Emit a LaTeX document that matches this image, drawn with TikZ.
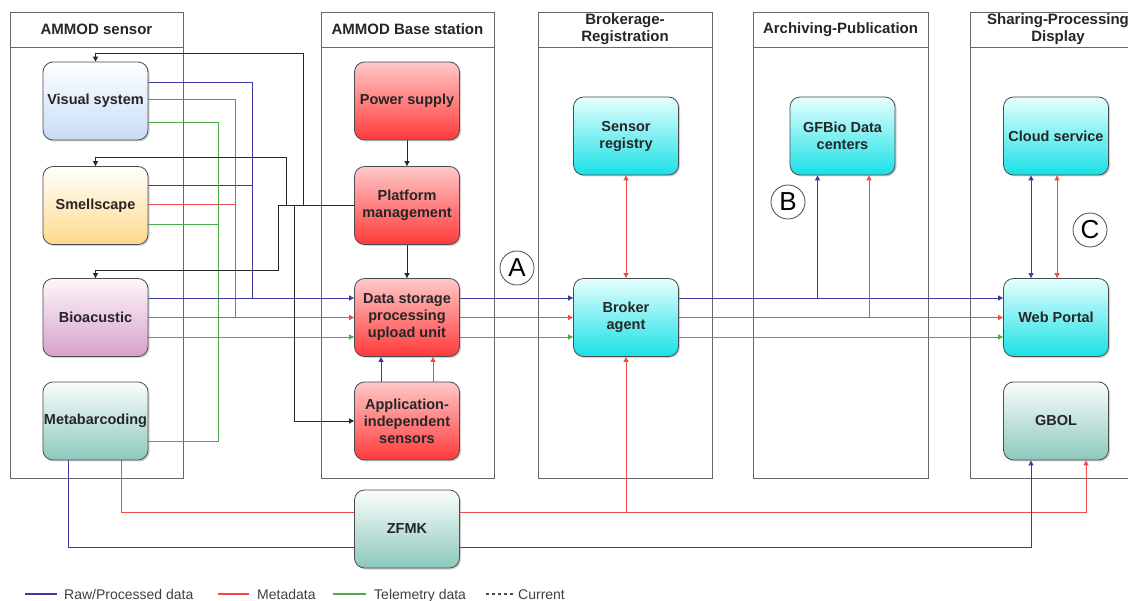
\documentclass[tikz,border=0pt]{standalone}
\usepackage{fontspec}
\setmainfont{Liberation Sans}
\usetikzlibrary{arrows.meta,shadows,backgrounds}
\definecolor{cBlue}{HTML}{3C3CA0}
\definecolor{cRed}{HTML}{EE4A4A}
\definecolor{cGreen}{HTML}{4CAA4C}
\begin{document}
\begin{tikzpicture}[x=1pt,y=-1pt,
  lane/.style={draw=black!60, line width=0.8pt},
  lanetitle/.style={font=\fontsize{15}{17}\selectfont\bfseries, text=black!85, align=center},
  box/.style={rectangle, rounded corners=10pt, draw=black!70, line width=0.8pt,
    minimum width=105pt, minimum height=78pt, align=center, inner sep=1pt,
    font=\fontsize{14.5}{17}\selectfont\bfseries, text=black!85,
    drop shadow={shadow xshift=1.5pt, shadow yshift=-1.5pt, opacity=0.35}},
  bvis/.style={box, top color=white, bottom color={rgb,255:red,200;green,220;blue,246}},
  bsme/.style={box, top color=white, bottom color={rgb,255:red,255;green,217;blue,138}},
  bbio/.style={box, top color={rgb,255:red,253;green,247;blue,251}, bottom color={rgb,255:red,216;green,160;blue,200}},
  bteal/.style={box, top color={rgb,255:red,250;green,253;blue,253}, bottom color={rgb,255:red,140;green,200;blue,188}},
  bred/.style={box, top color={rgb,255:red,255;green,200;blue,200}, bottom color={rgb,255:red,255;green,58;blue,58}},
  bcyan/.style={box, top color={rgb,255:red,230;green,255;blue,255}, bottom color={rgb,255:red,25;green,224;blue,230}},
  circ/.style={circle, draw=black!70, line width=0.8pt, minimum size=34pt, inner sep=0pt,
    font=\fontsize{26}{26}\selectfont},
  legend/.style={font=\fontsize{14}{16}\selectfont, text=black!75, anchor=base west, inner sep=0pt},
  conn/.style={line width=0.9pt},
  raw/.style={conn, draw=cBlue},
  meta/.style={conn, draw=cRed},
  tele/.style={conn, draw=cGreen},
  ctl/.style={conn, draw=black!85},
  arr/.style={-{Triangle[length=5pt,width=5pt]}},
  arrs/.style={{Triangle[length=5pt,width=5pt]}-{Triangle[length=5pt,width=5pt]}},
]
\useasboundingbox (0,0) rectangle (1128,601);

% lane titles
\node[lanetitle] (t1) at (96.5,29.5) {AMMOD sensor};
\node[lanetitle] (t2) at (407.5,29.5) {AMMOD Base station};
\node[lanetitle] (t3) at (625,29.5) {Brokerage-\\Registration};
\node[lanetitle] (t4) at (840.5,29.5) {Archiving-Publication};
\node[lanetitle] (t5) at (1058,29.5) {Sharing-Processing\\Display};

% sensor column
\node[bvis] (vis) at (95.5,101) {Visual system};
\node[bsme] (sme) at (95.5,205.5) {Smellscape};
\node[bbio] (bio) at (95.5,317.5) {Bioacustic};
\node[bteal] (mb) at (95.5,421) {Metabarcoding};

% base station column
\node[bred] (ps) at (407,101) {Power supply};
\node[bred] (pm) at (407,205.5) {Platform\\management};
\node[bred] (ds) at (407,317.5) {Data storage\\processing\\upload unit};
\node[bred] (ais) at (407,421) {Application-\\independent\\sensors};

% brokerage
\node[bcyan] (sr) at (626,136) {Sensor\\registry};
\node[bcyan] (ba) at (626,317.5) {Broker\\agent};

% archiving
\node[bcyan] (gf) at (842.5,136) {GFBio Data\\centers};

% sharing
\node[bcyan] (cs) at (1056,136) {Cloud service};
\node[bcyan] (wp) at (1056,317.5) {Web Portal};
\node[bteal] (gbol) at (1056,421) {GBOL};

% ZFMK
\node[bteal] (zf) at (407,529) {ZFMK};

% circled letters
\node[circ] (cA) at (517,268) {A};
\node[circ] (cB) at (788,202) {B};
\node[circ] (cC) at (1090,230) {C};

% legend
\node[legend] (lg1) at (64,599) {Raw/Processed data};
\node[legend] (lg2) at (257,599) {Metadata};
\node[legend] (lg3) at (374,599) {Telemetry data};
\node[legend] (lg4) at (518,599) {Current};
\coordinate (lgs1) at (25,594);  \coordinate (lge1) at (57,594);
\coordinate (lgs2) at (218,594); \coordinate (lge2) at (249,594);
\coordinate (lgs3) at (333,594); \coordinate (lge3) at (366,594);
\coordinate (lgs4) at (486,594); \coordinate (lge4) at (514,594);
\draw[raw, line width=1.3pt] (lgs1) -- (lge1);
\draw[meta, line width=1.3pt] (lgs2) -- (lge2);
\draw[tele, line width=1.3pt] (lgs3) -- (lge3);
\draw[ctl, draw=black!70, line width=1.1pt, dash pattern=on 3pt off 3pt] (lgs4) -- (lge4);

% junction coordinates
\coordinate (jb) at (252,298);
\coordinate (jr) at (235,317.5);
\coordinate (jg) at (218,337);
\coordinate (c1) at (303,53);
\coordinate (c2) at (286,157);
\coordinate (c3) at (278,270);

\begin{scope}[on background layer]
  \fill[white] (0,0) rectangle (1128,601);
  % lanes
  \draw[lane] (10,12) rectangle (183,478);   \draw[lane] (10,47) -- (183,47);
  \draw[lane] (321,12) rectangle (494,478);  \draw[lane] (321,47) -- (494,47);
  \draw[lane] (538,12) rectangle (712,478);  \draw[lane] (538,47) -- (712,47);
  \draw[lane] (753,12) rectangle (928,478);  \draw[lane] (753,47) -- (928,47);
  \draw[lane] (970,12) rectangle (1146,478); \draw[lane] (970,47) -- (1146,47);

  % sensors -> data storage
  \draw[raw] ([yshift=19pt]vis.east) -| (jb);
  \draw[raw] ([yshift=20.5pt]sme.east) -| (jb);
  \draw[meta] ([yshift=2pt]vis.east) -| (jr);
  \draw[meta] ([yshift=1pt]sme.east) -| (jr);
  \draw[tele] ([yshift=-21pt]vis.east) -| (jg);
  \draw[tele] ([yshift=-18.5pt]sme.east) -| (jg);
  \draw[tele] ([yshift=-20pt]mb.east) -| (jg);
  \draw[raw,arr] ([yshift=19.5pt]bio.east) -- ([yshift=19.5pt]ds.west);
  \draw[meta,arr] (bio.east) -- (ds.west);
  \draw[tele,arr] ([yshift=-19.5pt]bio.east) -- ([yshift=-19.5pt]ds.west);

  % platform management control lines
  \draw[ctl,arr] (pm.west) -| (c1) -| (vis.north);
  \draw[ctl,arr] (pm.west) -| (c2) -| (sme.north);
  \draw[ctl,arr] (pm.west) -| (c3) -| (bio.north);
  \draw[ctl,arr] (pm.west) -| ([xshift=-60pt]ais.west) -- (ais.west);
  \draw[ctl,arr] (ps.south) -- (pm.north);
  \draw[ctl,arr] (pm.south) -- (ds.north);

  % application-independent sensors -> data storage
  \draw[raw,arr] ([xshift=-26pt]ais.north) -- ([xshift=-26pt]ds.south);
  \draw[meta,arr] ([xshift=26pt]ais.north) -- ([xshift=26pt]ds.south);

  % data storage -> broker agent
  \draw[raw,arr] ([yshift=19.5pt]ds.east) -- ([yshift=19.5pt]ba.west);
  \draw[meta,arr] (ds.east) -- (ba.west);
  \draw[tele,arr] ([yshift=-19.5pt]ds.east) -- ([yshift=-19.5pt]ba.west);

  % broker agent -> web portal
  \draw[raw,arr] ([yshift=19.5pt]ba.east) -- ([yshift=19.5pt]wp.west);
  \draw[meta,arr] (ba.east) -- (wp.west);
  \draw[tele,arr] ([yshift=-19.5pt]ba.east) -- ([yshift=-19.5pt]wp.west);

  % branches to GFBio
  \coordinate (gfb) at ([xshift=-25pt]gf.south);
  \coordinate (gfr) at ([xshift=26.5pt]gf.south);
  \coordinate (lvB) at ([yshift=19.5pt]ba.east);
  \draw[raw,arr] (gfb |- lvB) -- (gfb);
  \draw[meta,arr] (gfr |- ba.east) -- (gfr);

  % sensor registry <-> broker agent
  \draw[meta,arrs] (sr.south) -- (ba.north);

  % cloud service <-> web portal
  \draw[raw,arrs] ([xshift=-25pt]cs.south) -- ([xshift=-25pt]wp.north);
  \draw[meta,arrs] ([xshift=1pt]cs.south) -- ([xshift=1pt]wp.north);

  % metabarcoding -> ZFMK -> GBOL / broker
  \draw[meta] ([xshift=25.5pt]mb.south) |- ([yshift=17pt]zf.west);
  \draw[raw] ([xshift=-27.5pt]mb.south) |- ([yshift=-18pt]zf.west);
  \coordinate (lzR) at ([yshift=17pt]zf.east);
  \draw[meta,arr] (lzR) -| ([xshift=30pt]gbol.south);
  \draw[meta,arr] (ba.south |- lzR) -- (ba.south);
  \draw[raw,arr] ([yshift=-18pt]zf.east) -| ([xshift=-25pt]gbol.south);
\end{scope}
\end{tikzpicture}
\end{document}
